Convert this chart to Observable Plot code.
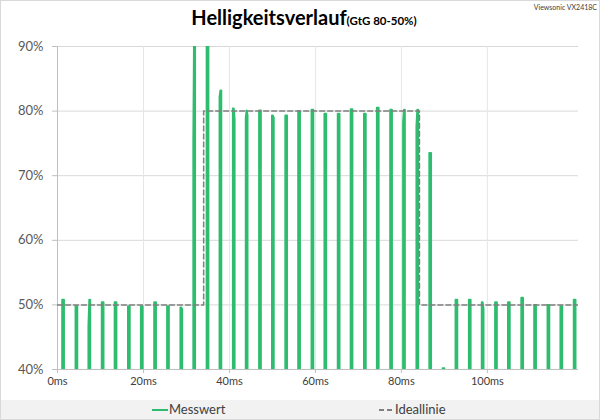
<!DOCTYPE html>
<html><head><meta charset="utf-8">
<script src="https://cdn.jsdelivr.net/npm/d3@7"></script>
<script src="https://cdn.jsdelivr.net/npm/@observablehq/plot@0.6"></script>
<style>
html,body{margin:0;padding:0;background:#fff;}
#chart{position:relative;width:600px;height:420px;overflow:hidden;font-family:Lato,"Open Sans",sans-serif;}
#frame{position:absolute;left:0;top:0;width:600px;height:420px;box-sizing:border-box;border:1px solid #d9d9d9;pointer-events:none;}
#title{position:absolute;left:4px;top:3px;width:600px;text-align:center;color:#000;white-space:nowrap;line-height:28px;}
#title .main{font-size:20px;font-weight:700;}
#title .sub{font-size:11.5px;font-weight:700;}
#model{position:absolute;right:3px;top:3px;font-size:7px;color:#404040;}
#plot{position:absolute;left:0;top:0;}
#legend{position:absolute;left:1px;top:400px;width:598px;height:19px;background:#f2f2f2;}
.lg{position:absolute;top:0;line-height:19px;font-size:13px;color:#404040;}
.sw{position:absolute;top:9px;height:2px;}
</style></head>
<body>
<div id="chart">
  <div id="plot"></div>
  <div id="title"><span class="main">Helligkeitsverlauf</span><span class="sub">(GtG 80-50%)</span></div>
  <div id="model">Viewsonic VX2418C</div>
  <div id="legend">
    <div class="sw" style="left:151px;width:16px;background:#2ebd6e;"></div>
    <div class="lg" style="left:168px;">Messwert</div>
    <div class="sw" style="left:378px;width:5px;background:#808080;"></div>
    <div class="sw" style="left:386px;width:5px;background:#808080;"></div>
    <div class="lg" style="left:394px;">Ideallinie</div>
  </div>
  <div id="frame"></div>
</div>
<script>
// Pulse times (ms)
const pulseTime = [1.3, 4.4, 7.4, 10.5, 13.5, 16.6, 19.6, 22.7, 25.7, 28.8,
  31.8, 34.9, 37.9, 41.0, 44.0, 47.1, 50.1, 53.2, 56.2, 59.3,
  62.3, 65.4, 68.4, 71.5, 74.5, 77.6, 80.6, 83.7, 86.7, 89.8,
  92.8, 95.9, 98.9, 102.0, 105.0, 108.1, 111.1, 114.2, 117.2, 120.3];
// Peak brightness (%) of each pulse
const pulsePeak = [50.8, 49.8, 50.8, 50.4, 50.4, 49.8, 49.8, 50.4, 49.8, 49.6,
  95, 95, 83.2, 80.4, 80.1, 80.1, 79.3, 79.3, 80.0, 80.2,
  79.6, 79.6, 80.3, 79.6, 80.5, 80.2, 80.2, 80.2, 73.5, 40.2,
  50.8, 50.8, 50.4, 50.4, 50.4, 51.1, 50.0, 50.0, 49.8, 50.8];
// Level on the rising edge (null = same as peak)
const pulseRise = [null, null, 46.8, null, null, null, null, null, null, null,
  75.2, null, 82.2, null, 79.0, null, null, null, null, null,
  null, null, null, null, null, null, 78.3, 77.6, null, null,
  null, null, null, null, null, null, null, null, null, null];
// Level on the falling edge (null = same as peak)
const pulseFall = [null, null, null, null, null, null, null, null, null, 49.3,
  null, null, null, 78.7, 79.4, null, 79.0, null, null, null,
  null, null, null, null, null, null, null, null, null, null,
  null, null, 49.4, null, null, null, null, null, null, null];
const offLevel = 0;

// Ideal line
const idealTime = [0, 34.0, 34.0, 84.2, 84.2, 121.2];
const idealValue = [50, 50, 80, 80, 50, 50];

const yTicks = [40, 50, 60, 70, 80, 90];
const xTicks = [0, 20, 40, 60, 80, 100];

const halfW = 0.2;
const measured = [];
pulseTime.forEach((t, i) => {
  const p = pulsePeak[i];
  const r = pulseRise[i] ?? p;
  const f = pulseFall[i] ?? p;
  measured.push({t: t - halfW, v: offLevel});
  measured.push({t: t - halfW, v: r});
  measured.push({t: t, v: p});
  measured.push({t: t + halfW, v: f});
  measured.push({t: t + halfW, v: offLevel});
});
const ideal = idealTime.map((t, i) => ({t, v: idealValue[i]}));

const green = "#2ebd6e";
const chart = Plot.plot({
  width: 600, height: 400,
  marginTop: 46, marginBottom: 31, marginLeft: 57, marginRight: 22,
  style: {fontFamily: "Lato, 'Open Sans', sans-serif", background: "transparent"},
  x: {domain: [0, 121.2]},
  y: {domain: [40, 90]},
  marks: [
    Plot.gridY(yTicks.slice(1), {stroke: "#d9d9d9", strokeOpacity: 1}),
    Plot.gridX(xTicks.slice(1), {stroke: "#e6e6e6", strokeOpacity: 1}),
    Plot.ruleX([0], {stroke: "#bfbfbf"}),
    Plot.ruleY([40], {stroke: "#bfbfbf"}),
    Plot.axisY(yTicks, {tickSize: 5, tickPadding: 9, stroke: "#bfbfbf", fill: "#595959", fontSize: 13, tickFormat: d => d + "%", label: null}),
    Plot.axisX(xTicks, {tickSize: 4, tickPadding: 4, stroke: "#bfbfbf", fill: "#404040", fontSize: 11, tickFormat: d => d + "ms", label: null}),
    Plot.line(measured, {x: "t", y: "v", stroke: green, strokeWidth: 2, clip: true, curve: "linear"}),
    Plot.line(ideal, {x: "t", y: "v", stroke: "#7f7f7f", strokeWidth: 1.5, strokeDasharray: "5,3", clip: true})
  ]
});
document.getElementById("plot").appendChild(chart);
</script>
</body></html>
